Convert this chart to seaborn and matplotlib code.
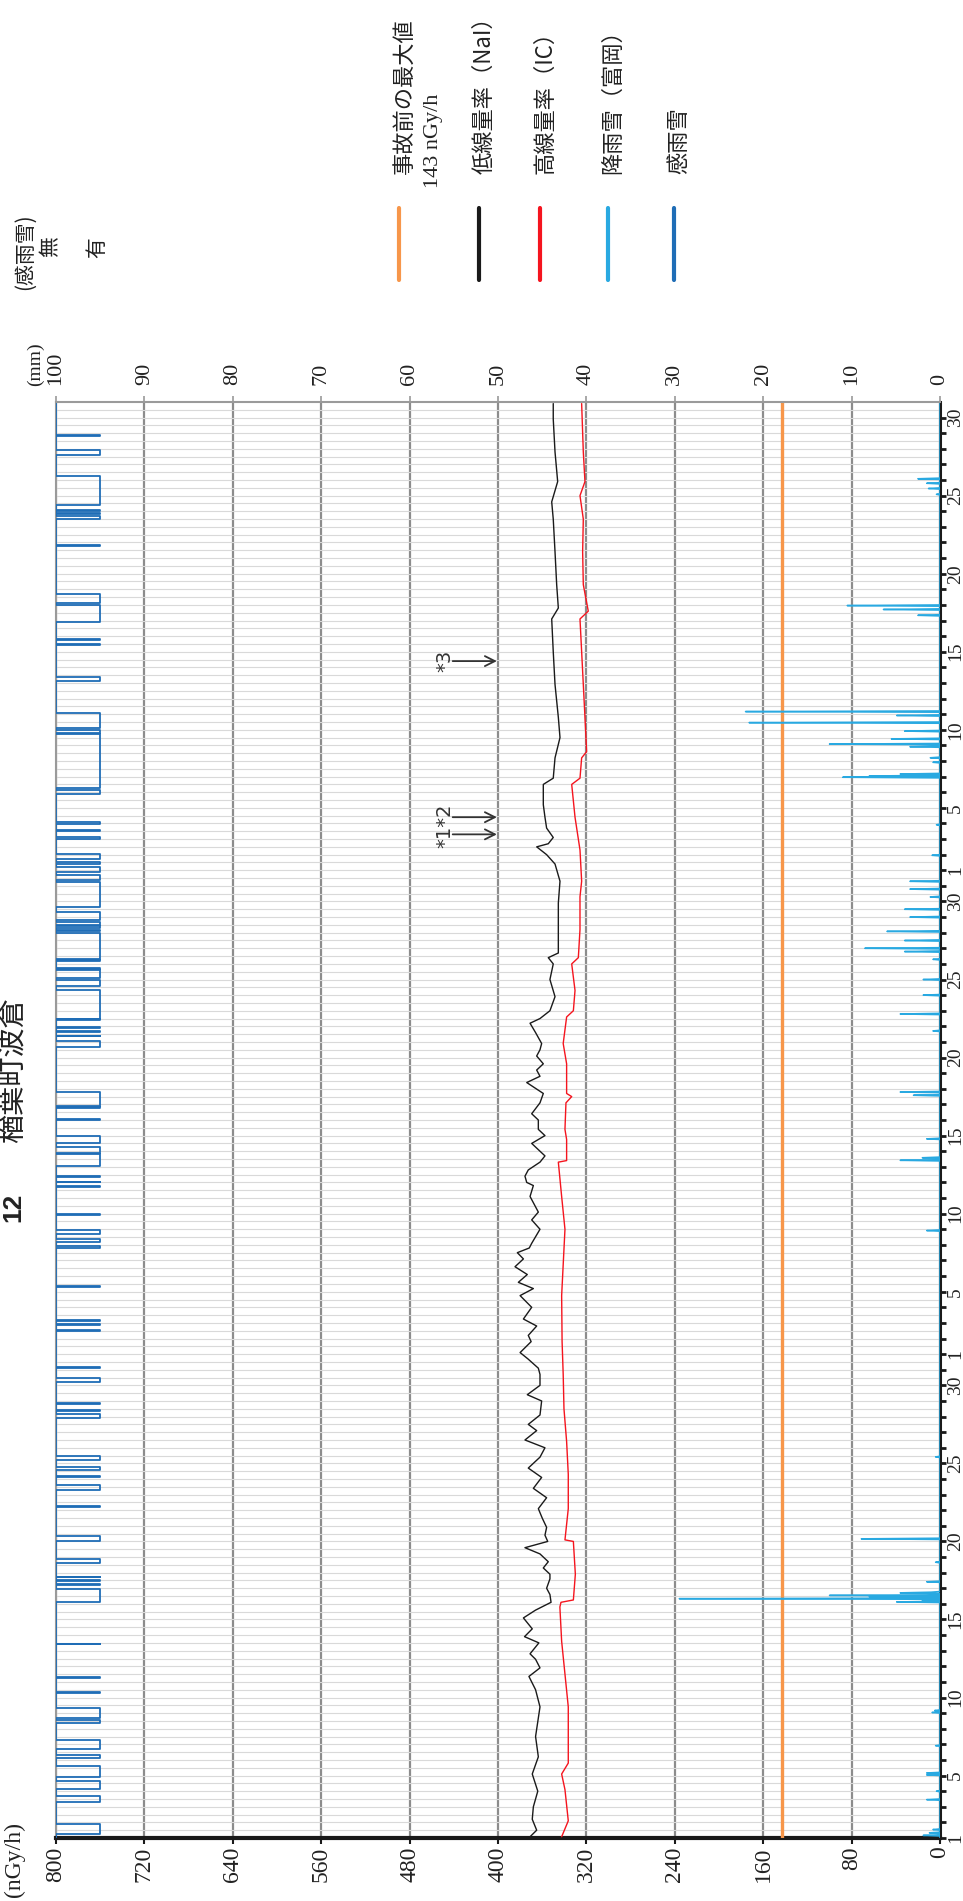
import numpy as np
import matplotlib
matplotlib.use("Agg")
import matplotlib.pyplot as plt
import seaborn as sns
from matplotlib.lines import Line2D

# ---- data -------------------------------------------------------------
# time axis: days since Jul 1 00:00, three months
month_days = [31, 31, 30]
label_days = [1, 5, 10, 15, 20, 25, 30]

baseline_max = 143  # nGy/h, pre-accident maximum

# low dose rate (NaI), nGy/h
nai_t = [0.08, 0.5, 1.2, 2.0, 3.0, 4.1, 5.2, 6.5, 8.4, 9.5, 10.35, 10.9, 11.45, 11.8,
         12.5, 12.9, 13.4, 14.1, 14.6, 15.1, 15.6, 16.0, 16.6, 16.9, 17.3, 17.7, 18.2,
         18.6, 19.0, 19.4, 19.9, 20.5, 21.1, 21.8, 22.4, 23.1, 23.7, 24.4, 25.0, 25.5,
         26.1, 26.5, 27.1, 28.0, 28.4, 29.0, 29.7, 30.1, 30.7, 31.1, 31.8, 32.2, 32.8,
         33.25, 34.0, 34.75, 35.2, 35.6, 36.1, 36.6, 37.1, 37.5, 37.8, 38.1, 39.0, 39.6,
         40.1, 41.1, 41.8, 42.0, 42.4, 42.8, 43.3, 43.7, 44.1, 44.5, 45.0, 45.4, 46.0,
         46.4, 47.1, 47.7, 48.4, 48.8, 49.2, 49.6, 50.1, 50.5, 50.9, 51.6, 52.2, 52.5,
         53.0, 53.9, 55.0, 56.0, 56.4, 56.7, 58.2, 59.9, 61.3, 62.4, 63.0, 63.5, 63.7,
         64.1, 64.7, 65.4, 66.2, 67.5, 67.9, 69.2, 70.5, 71.8, 73.9, 76.0, 78.1, 78.8,
         80.3, 82.4, 84.5, 85.6, 86.9, 88.8, 90.9, 91.9]
nai_val = [371, 365, 369, 368, 364, 369, 363.5, 366, 362, 366, 372, 362, 366, 371,
           363, 376, 369, 377, 366, 352, 353, 356, 353, 353, 359, 354.5, 362,
           375.6, 355, 357.5, 356, 360, 363.5, 356, 368, 360.5, 372.6, 362, 357.5, 375.6,
           365, 372.6, 362, 360.5, 373.5, 362, 362, 363.5, 373, 380, 370, 372.6, 365,
           377, 369.5, 380, 368, 381.6, 373.5, 384.6, 377, 382.5, 371.7, 369.5, 362, 369.5,
           363.5, 371, 368, 374, 375.6, 372.6, 362, 357.5, 363.5, 369.5, 357.5, 363.5, 363.5,
           369.5, 362, 359, 374, 362, 365, 359, 365, 362, 360.5, 366, 371, 362,
           353, 348.4, 353, 350, 354.5, 345.4, 345.4, 345.4, 343.9, 348.4, 356, 365, 354.5,
           350, 356, 357.5, 359, 359, 350, 348.4, 343.9, 345.4, 348.4, 350, 351.4, 345.4,
           346.9, 348.4, 350, 351.4, 346, 348.4, 350, 350]

# high dose rate (IC), nGy/h
ic_t = [0.08, 1.1, 3.1, 4.1, 4.8, 8.4, 10.5, 12.6, 14.8, 15.1, 15.25, 16.9, 19.0, 19.1,
        21.1, 23.3, 25.4, 27.5, 29.7, 31.8, 34.75, 39.0, 41.1, 43.3, 43.4, 44.75, 45.4,
        47.1, 47.5, 47.7, 49.6, 50.9, 52.6, 53.0, 54.3, 56.0, 56.4, 58.2, 60.3, 61.3,
        63.3, 65.4, 67.5, 67.9, 69.2, 69.6, 71.8, 73.9, 76.0, 78.1, 78.6, 80.3, 82.4,
        84.5, 86.0, 86.9, 88.8, 91.9]
ic_val = [342.4, 336.4, 339.4, 342.4, 336.4, 336.4, 339.4, 342.4, 344, 343, 331.8, 330, 331.8, 339.4,
          336.4, 336.4, 337.9, 340.3, 341, 342, 342.4, 339.4, 342.4, 345.4, 337.9, 337.9, 339.4,
          338.5, 333.3, 337.9, 337.9, 341, 337.9, 331.8, 330.3, 333.3, 327.3, 325.8, 325.8, 324.3,
          325.8, 330.3, 333.3, 325.8, 324.3, 319.8, 321.3, 322.8, 324.3, 325.8, 318.3, 322.8, 323.4,
          322.8, 325.8, 321.3, 322.8, 324.3]

# hourly precipitation events (Tomioka), mm; all other hours are 0
precip_t = [0.15, 0.35, 0.55, 2.45, 3.0, 4.05, 4.15, 5.9, 8.05, 8.15,
            15.14, 15.2, 15.33, 15.45, 15.55, 15.7, 15.75, 16.4, 17.65, 19.15,
            24.4, 38.9, 43.4, 43.6, 44.8, 47.6, 47.8, 51.7, 52.8, 54.0,
            55.0, 56.3, 56.8, 57.0, 57.5, 58.1, 59.0, 59.5, 60.3, 60.8,
            61.3, 62.96, 64.9, 67.95, 68.05, 68.15, 68.9, 69.2, 69.9, 70.07,
            70.4, 70.9, 71.46, 71.9, 72.16, 78.35, 78.7, 78.94, 86.1, 86.45,
            86.8, 87.1]
precip_mm = [1.9, 1.2, 0.8, 1.5, 0.4, 1.5, 1.5, 0.5, 0.9, 0.6,
             4.9, 2.0, 29.5, 8.0, 12.5, 4.5, 1.0, 1.5, 0.5, 8.9,
             0.5, 1.5, 4.5, 2.0, 1.5, 3.0, 4.5, 0.8, 4.5, 1.9,
             1.9, 0.8, 4.0, 8.5, 4.0, 6.0, 3.4, 4.0, 1.1, 3.4,
             3.4, 0.9, 0.4, 11.0, 8.0, 4.5, 0.8, 1.1, 3.4, 12.5,
             5.5, 4.0, 21.6, 4.9, 22.0, 2.5, 6.4, 10.5, 0.4, 1.3,
             1.5, 2.5]

# rain sensor "on" intervals (days)
sense_on = [0.26, 2.3, 3.17, 3.9, 5.1, 5.7, 7.35, 7.7, 9.3, 10.25, 12.4, 15.1, 16.2, 16.45,
            16.7, 17.6, 19.0, 21.2, 22.3, 23.15, 23.6, 24.2, 26.9, 27.35, 27.8, 29.2, 30.1,
            32.5, 32.85, 33.15, 35.3, 37.8, 38.2, 38.7, 39.9, 41.7, 42.0, 42.35, 43.05, 43.9,
            44.5, 46.0, 46.8, 46.9, 50.7, 51.35, 51.65, 51.9, 52.4, 52.5, 54.6, 55.1, 55.7,
            56.2, 56.3, 58.1, 58.3, 58.5, 58.8, 59.65, 61.4, 61.9, 62.4, 62.7, 64.0, 64.5,
            64.95, 66.9, 67.3, 70.8, 71.1, 74.1, 76.45, 76.75, 77.9, 79.1, 82.8, 84.5, 84.8,
            85.0, 85.4, 88.58, 89.85]
sense_off = [0.88, 2.68, 3.66, 4.6, 5.3, 6.3, 7.55, 8.3, 9.35, 10.3, 12.45, 15.95, 16.25, 16.5,
             16.75, 17.9, 19.35, 21.25, 22.6, 23.2, 23.8, 24.5, 27.15, 27.4, 27.85, 29.5, 30.15,
             32.55, 32.9, 33.2, 35.35, 37.9, 38.4, 38.95, 39.95, 41.8, 42.05, 42.4, 43.8, 44.3,
             44.96, 46.05, 46.85, 47.8, 51.05, 51.4, 51.7, 51.95, 52.45, 54.3, 54.96, 55.6, 55.75,
             56.24, 58.0, 58.2, 58.4, 58.7, 59.3, 61.24, 61.7, 62.2, 62.5, 63.05, 64.1, 64.6,
             65.1, 67.15, 70.7, 71.0, 72.1, 74.4, 76.5, 76.8, 79.0, 79.7, 82.85, 84.7, 84.9,
             85.1, 87.24, 88.94, 89.9]
sense_levels = {0: 800, 1: 760}  # drawn at the top edge of the dose scale

# ---- styling -----------------------------------------------------------
sns.set_theme(style="white")
plt.rcParams["font.family"] = ["Liberation Serif", "Noto Sans CJK JP", "DejaVu Sans"]
JP = ["Noto Sans CJK JP", "DejaVu Sans"]
TXT = "#222222"

C_ORANGE = "#f7964a"
C_BLACK = "#1a1a1a"
C_RED = "#f5141e"
C_LBLUE = "#29a9e1"
C_BLUE = "#1f6db6"
C_GRID = "#8c8c8c"

W, H = 963, 1901
fig = plt.figure(figsize=(W / 100, H / 100), dpi=100)


def fx(px):
    return px / W


def fy(py):
    return 1 - py / H


ax = fig.add_axes([fx(56), fy(1838), fx(940) - fx(56), fy(402) - fy(1838)])
days_total = sum(month_days)

# ---- series ------------------------------------------------------------
ax.axvline(baseline_max, color=C_ORANGE, lw=2.4, zorder=3)

sns.lineplot(x=nai_val, y=nai_t, orient="y", sort=False, estimator=None,
             color=C_BLACK, lw=1.0, ax=ax, zorder=4)
sns.lineplot(x=ic_val, y=ic_t, orient="y", sort=False, estimator=None,
             color=C_RED, lw=1.0, ax=ax, zorder=4)

sense_t = [0.0]
sense_v = [0]
for s, e in zip(sense_on, sense_off):
    sense_t += [s, e]
    sense_v += [1, 0]
sense_t.append(days_total)
sense_v.append(0)
sense_x = [sense_levels[v] for v in sense_v]
ax.plot(sense_x, sense_t, drawstyle="steps-pre", color=C_BLUE, lw=1.3, zorder=4)

# precipitation on its own (mm) scale
ax2 = ax.twiny()
hours = np.arange(0, days_total * 24 + 1)
rain = np.zeros(len(hours))
for t, mm in zip(precip_t, precip_mm):
    rain[int(round(t * 24))] = mm
sns.lineplot(x=rain, y=hours / 24, orient="y", sort=False, estimator=None,
             color=C_LBLUE, lw=1.1, ax=ax2)

# ---- axes --------------------------------------------------------------
ax.set_xlim(800, 0)
ax.set_ylim(0, days_total)
ax2.set_xlim(100, 0)
ax.set_xlabel("")
ax.set_ylabel("")
ax2.set_xlabel("")

dose_ticks = np.arange(0, 801, 80)
ax.set_xticks(dose_ticks)
ax.set_xticklabels([str(v) for v in dose_ticks])
ax.tick_params(axis="x", which="major", direction="out", length=4, width=1.5,
               color=C_BLACK, labelsize=17, labelcolor=TXT, labelrotation=90, pad=2)

day_pos, day_lab = [], []
start = 0
for n in month_days:
    for d in range(1, n + 1):
        day_pos.append(start + d - 1)
        day_lab.append(str(d) if d in label_days else "")
    start += n
ax.yaxis.tick_right()
ax.set_yticks(day_pos)
ax.set_yticklabels(day_lab, rotation=90, va="center")
ax.set_yticks(np.arange(0.5, days_total, 1.0), minor=True)
ax.tick_params(axis="y", which="major", direction="out", length=4, width=2,
               color=C_BLACK, labelsize=14, labelcolor=TXT, pad=1)
ax.tick_params(axis="y", which="minor", length=0)

ax.grid(axis="y", which="both", color="#d9d9d9", lw=0.8, zorder=0)
ax.grid(axis="x", which="major", color=C_GRID, lw=1.6, zorder=1)

mm_ticks = np.arange(0, 101, 10)
ax2.set_xticks(mm_ticks)
ax2.set_xticklabels([str(v) for v in mm_ticks])
ax2.tick_params(axis="x", direction="out", length=4, width=1.2, color="#999999",
                labelsize=16, labelcolor=TXT, labelrotation=90, pad=8)
ax2.grid(False)

for side, sp in ax.spines.items():
    sp.set_visible(True)
ax.spines["bottom"].set_color(C_BLACK)
ax.spines["bottom"].set_linewidth(3)
ax.spines["right"].set_color(C_BLACK)
ax.spines["right"].set_linewidth(2.2)
ax.spines["left"].set_color("#9a9a9a")
ax.spines["left"].set_linewidth(1.5)
ax.spines["top"].set_visible(False)
for side, sp in ax2.spines.items():
    sp.set_visible(side == "top")
ax2.spines["top"].set_color("#9a9a9a")
ax2.spines["top"].set_linewidth(1.5)

# notes *1 *2 *3
arrow_kw = dict(arrowstyle="->", color="#333333", lw=1.3, mutation_scale=18,
                shrinkA=0, shrinkB=0)
for t_note in (64.3, 65.4, 75.4):
    ax.annotate("", xy=(401, t_note), xytext=(441, t_note), arrowprops=arrow_kw, zorder=5)
ax.text(448, 64.85, "*1*2", rotation=90, ha="center", va="center", fontsize=14,
        family="DejaVu Sans", color="#333333")
ax.text(448, 75.4, "*3", rotation=90, ha="center", va="center", fontsize=14,
        family="DejaVu Sans", color="#333333")

# ---- figure texts --------------------------------------------------------
fig.text(fx(13), fy(1222), "12", rotation=90, ha="center", va="bottom",
         fontsize=19, fontweight="bold", family="Liberation Sans", color=TXT)
fig.text(fx(14), fy(1143), "楢葉町波倉", rotation=90, ha="center", va="bottom",
         fontsize=21, family=JP, color=TXT)

fig.text(fx(14), fy(1897), "(nGy/h)", rotation=90, ha="center", va="bottom",
         fontsize=17, color=TXT)
fig.text(fx(35), fy(386), "(mm)", rotation=90, ha="center", va="bottom",
         fontsize=14, color=TXT)

fig.text(fx(25), fy(290), "(感雨雪)", rotation=90, ha="center", va="bottom",
         fontsize=15, family=JP, color=TXT)
fig.text(fx(50), fy(247), "無", rotation=90, ha="center", va="center",
         fontsize=15, family=JP, color=TXT)
fig.text(fx(97), fy(248), "有", rotation=90, ha="center", va="center",
         fontsize=15, family=JP, color=TXT)

# legend (drawn by hand, rotated like the chart)
legend_items = [
    ("事故前の最大値", C_ORANGE, 399),
    ("低線量率（NaI）", C_BLACK, 479),
    ("高線量率（IC）", C_RED, 540),
    ("降雨雪（富岡）", C_LBLUE, 608),
    ("感雨雪", C_BLUE, 674),
]
for label, color, xp in legend_items:
    fig.add_artist(Line2D([fx(xp), fx(xp)], [fy(280), fy(208)], color=color, lw=3,
                          transform=fig.transFigure))
    fig.text(fx(xp + 5), fy(174), label, rotation=90, ha="center", va="bottom",
             fontsize=16, family=JP, color=TXT)
fig.text(fx(433), fy(188), "143 nGy/h", rotation=90, ha="center", va="bottom",
         fontsize=16, color=TXT)

fig.savefig("out.png", dpi=100, facecolor="white")
